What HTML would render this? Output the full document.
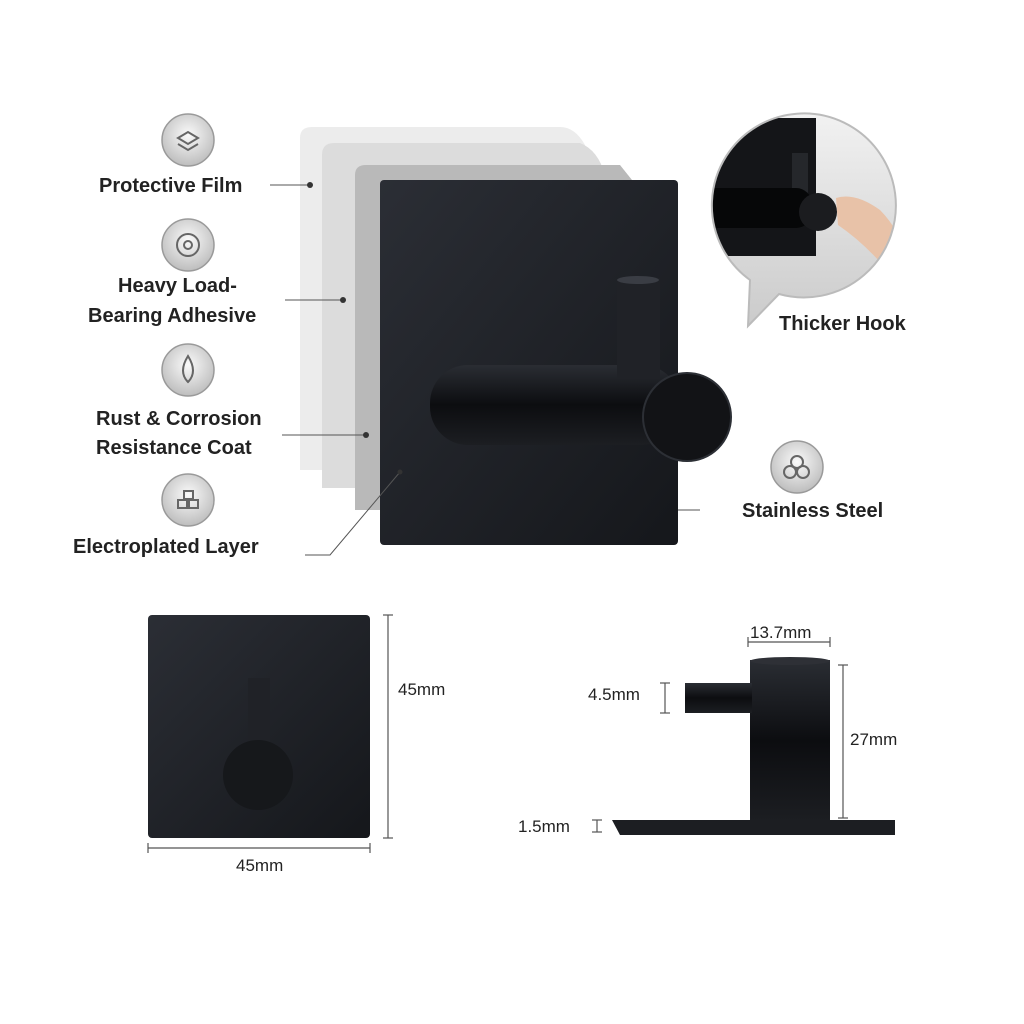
<!DOCTYPE html>
<html><head><style>
html,body{margin:0;padding:0;background:#fff;width:1024px;height:1024px;overflow:hidden}
</style></head><body>
<svg width="1024" height="1024" viewBox="0 0 1024 1024" xmlns="http://www.w3.org/2000/svg" font-family="Liberation Sans, sans-serif">
<defs>
<radialGradient id="ic" cx="50%" cy="40%" r="60%"><stop offset="0" stop-color="#fafafa"/><stop offset="1" stop-color="#bdbdbd"/></radialGradient>
<linearGradient id="shaft" x1="0" y1="0" x2="0" y2="1"><stop offset="0" stop-color="#2a2d33"/><stop offset="0.5" stop-color="#0c0d10"/><stop offset="1" stop-color="#1c1e22"/></linearGradient>
<linearGradient id="face" x1="0" y1="0" x2="1" y2="1"><stop offset="0" stop-color="#2b2e35"/><stop offset="1" stop-color="#15171b"/></linearGradient>
<linearGradient id="bg" x1="0" y1="0" x2="0" y2="1"><stop offset="0" stop-color="#f4f4f4"/><stop offset="1" stop-color="#c8c8c8"/></linearGradient>
</defs>
<path d="M300 138 Q300 127 312 127 L560 127 Q575 127 585 145 L585 470 L300 470 Z" fill="#ececec"/>
<path d="M322 155 Q322 143 334 143 L580 143 Q598 150 605 175 L605 488 L322 488 Z" fill="#dcdcdc"/>
<path d="M355 175 Q355 165 366 165 L620 165 L640 190 L640 510 L355 510 Z" fill="#b9b9b9"/>
<rect x="380" y="180" width="298" height="365" rx="4" fill="url(#face)"/>
<rect x="430" y="365" width="250" height="80" rx="38" fill="url(#shaft)"/>
<rect x="617" y="278" width="43" height="100" fill="#202227"/>
<ellipse cx="638" cy="280" rx="21" ry="4" fill="#3a3d44"/>
<circle cx="687" cy="417" r="44" fill="#121316" stroke="#2c2f35" stroke-width="2"/>
<g stroke="#555" stroke-width="1" fill="none">
<line x1="270" y1="185" x2="310" y2="185"/>
<line x1="285" y1="300" x2="343" y2="300"/>
<line x1="282" y1="435" x2="366" y2="435"/>
<polyline points="305,555 330,555 400,472"/>
<line x1="678" y1="510" x2="700" y2="510"/>
</g>
<g fill="#333"><circle cx="310" cy="185" r="3"/><circle cx="343" cy="300" r="3"/><circle cx="366" cy="435" r="3"/><circle cx="400" cy="472" r="2.5"/></g>
<g stroke="#9a9a9a" stroke-width="1.5" fill="url(#ic)">
<circle cx="188" cy="140" r="26"/><circle cx="188" cy="245" r="26"/><circle cx="188" cy="370" r="26"/><circle cx="188" cy="500" r="26"/><circle cx="797" cy="467" r="26"/>
</g>
<g fill="none" stroke="#666" stroke-width="2">
<path d="M178 138 L188 132 L198 138 L188 144 Z M178 144 L188 150 L198 144"/>
<circle cx="188" cy="245" r="11"/><circle cx="188" cy="245" r="4"/>
<path d="M188 356 Q178 372 188 382 Q198 372 188 356 Z"/>
<rect x="178" y="500" width="9" height="8"/><rect x="189" y="500" width="9" height="8"/><rect x="184" y="491" width="9" height="8"/>
<circle cx="790" cy="472" r="6"/><circle cx="803" cy="472" r="6"/><circle cx="797" cy="462" r="6"/>
</g>
<g font-weight="bold" fill="#222" font-size="20">
<text x="99" y="192">Protective Film</text>
<text x="118" y="292">Heavy Load-</text>
<text x="88" y="322">Bearing Adhesive</text>
<text x="96" y="425">Rust &amp; Corrosion</text>
<text x="96" y="454">Resistance Coat</text>
<text x="73" y="553">Electroplated Layer</text>
<text x="742" y="517">Stainless Steel</text>
<text x="779" y="330">Thicker Hook</text>
</g>
<clipPath id="bc"><path d="M750 280 A92 92 0 1 1 779 294 L748 326 Z"/></clipPath>
<g clip-path="url(#bc)">
<rect x="700" y="100" width="220" height="240" fill="url(#bg)"/>
<rect x="700" y="118" width="116" height="138" fill="#141518"/>
<rect x="792" y="153" width="16" height="45" fill="#25272b"/>
<rect x="700" y="188" width="112" height="40" rx="16" fill="#060708"/>
<circle cx="818" cy="212" r="19" fill="#1b1c1f"/>
<path d="M836 198 Q855 192 880 210 Q900 230 905 258 L880 262 Q860 240 838 225 Z" fill="#e8c2a8"/>
</g>
<path d="M750 280 A92 92 0 1 1 779 294 L748 326 Z" fill="none" stroke="#bbb" stroke-width="2"/>
<rect x="148" y="615" width="222" height="223" rx="4" fill="url(#face)"/>
<rect x="248" y="678" width="22" height="82" fill="#202227"/>
<circle cx="258" cy="775" r="35" fill="#16181b"/>
<g stroke="#555" stroke-width="1.2" fill="none">
<line x1="388" y1="615" x2="388" y2="838"/><line x1="383" y1="615" x2="393" y2="615"/><line x1="383" y1="838" x2="393" y2="838"/>
<line x1="148" y1="848" x2="370" y2="848"/><line x1="148" y1="843" x2="148" y2="853"/><line x1="370" y1="843" x2="370" y2="853"/>
<line x1="748" y1="642" x2="830" y2="642"/><line x1="748" y1="637" x2="748" y2="647"/><line x1="830" y1="637" x2="830" y2="647"/>
<line x1="843" y1="665" x2="843" y2="818"/><line x1="838" y1="665" x2="848" y2="665"/><line x1="838" y1="818" x2="848" y2="818"/>
<line x1="665" y1="683" x2="665" y2="713"/><line x1="660" y1="683" x2="670" y2="683"/><line x1="660" y1="713" x2="670" y2="713"/>
<line x1="597" y1="820" x2="597" y2="832"/><line x1="592" y1="820" x2="602" y2="820"/><line x1="592" y1="832" x2="602" y2="832"/>
</g>
<g font-size="17" fill="#222">
<text x="398" y="695">45mm</text>
<text x="236" y="871">45mm</text>
<text x="750" y="638">13.7mm</text>
<text x="850" y="745">27mm</text>
<text x="588" y="700">4.5mm</text>
<text x="518" y="832">1.5mm</text>
</g>
<path d="M612 820 L895 820 L895 835 L620 835 Z" fill="#1c1e22"/>
<rect x="750" y="660" width="80" height="162" fill="url(#shaft)"/>
<ellipse cx="790" cy="661" rx="40" ry="4" fill="#2e3036"/>
<rect x="685" y="683" width="67" height="30" fill="url(#shaft)"/>
</svg>
</body></html>
